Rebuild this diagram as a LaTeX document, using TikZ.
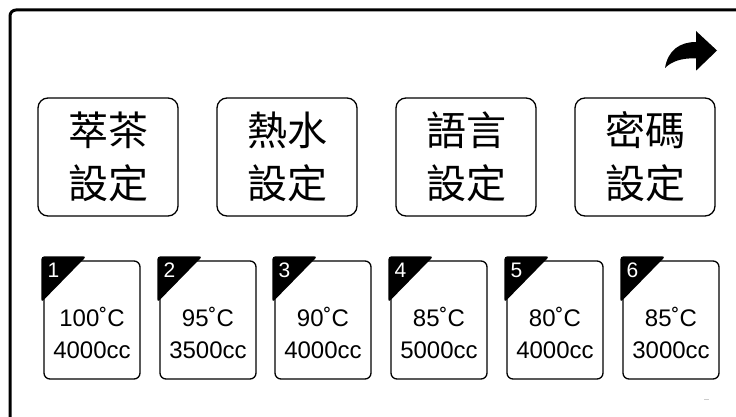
\documentclass[tikz,border=0pt]{standalone}
\usepackage{fontspec}
\setmainfont{Liberation Sans}
\newfontfamily\cjk{Noto Sans CJK TC}
\usetikzlibrary{calc}

\begin{document}
\begin{tikzpicture}[x=1pt, y=-1pt,
    menubox/.style={draw, line width=1.3pt, rounded corners=10pt, minimum width=140pt, minimum height=118pt, align=center, font=\cjk\fontsize{40}{53}\selectfont},
    presetcard/.style={draw, line width=1.3pt, rounded corners=6pt, minimum width=96pt, minimum height=118pt},
    presettext/.style={align=center, font=\fontsize{24}{32}\selectfont},
    presetnum/.style={text=white, font=\fontsize{21}{21}\selectfont, inner sep=0pt}]
    \useasboundingbox (0,0) rectangle (736,417);
    \clip (0,0) rectangle (736,417);

    % the screen frame
    \draw[line width=3pt, rounded corners=6pt] (10,440) -- (10,10) -- (760,10);

    % the next-page arrow
    \fill (665,68) .. controls (668,50) and (680,42) .. (696,42) -- (696,31) -- (717,50.5)
        -- (696,70.7) -- (696,58.3) .. controls (682,58) and (672,61) .. (665,68) -- cycle;

    % the setting buttons
    \node[menubox] (tea) at (108,157) {萃茶\\設定};
    \node[menubox] (water) at (287,157) {熱水\\設定};
    \node[menubox] (lang) at (466,157) {語言\\設定};
    \node[menubox] (pass) at (645,157) {密碼\\設定};

    % the preset cards
    \node[presetcard] (p1) at (92,320) {};
    \node[presetcard] (p2) at (208,320) {};
    \node[presetcard] (p3) at (323,320) {};
    \node[presetcard] (p4) at (439,320) {};
    \node[presetcard] (p5) at (555,320) {};
    \node[presetcard] (p6) at (671,320) {};

    % the corner tags on the cards
    \fill[rounded corners=3pt] ($(p1.north west)+(-2,-4)$) -- ($(p1.north west)+(43,-4)$) -- ($(p1.north west)+(-2,42)$) -- cycle;
    \fill[rounded corners=3pt] ($(p2.north west)+(-2,-4)$) -- ($(p2.north west)+(43,-4)$) -- ($(p2.north west)+(-2,42)$) -- cycle;
    \fill[rounded corners=3pt] ($(p3.north west)+(-2,-4)$) -- ($(p3.north west)+(43,-4)$) -- ($(p3.north west)+(-2,42)$) -- cycle;
    \fill[rounded corners=3pt] ($(p4.north west)+(-2,-4)$) -- ($(p4.north west)+(43,-4)$) -- ($(p4.north west)+(-2,42)$) -- cycle;
    \fill[rounded corners=3pt] ($(p5.north west)+(-2,-4)$) -- ($(p5.north west)+(43,-4)$) -- ($(p5.north west)+(-2,42)$) -- cycle;
    \fill[rounded corners=3pt] ($(p6.north west)+(-2,-4)$) -- ($(p6.north west)+(43,-4)$) -- ($(p6.north west)+(-2,42)$) -- cycle;

    % the numbers in the tags
    \node[presetnum] (n1) at ($(p1.north west)+(10,10)$) {1};
    \node[presetnum] (n2) at ($(p2.north west)+(10,10)$) {2};
    \node[presetnum] (n3) at ($(p3.north west)+(10,10)$) {3};
    \node[presetnum] (n4) at ($(p4.north west)+(10,10)$) {4};
    \node[presetnum] (n5) at ($(p5.north west)+(10,10)$) {5};
    \node[presetnum] (n6) at ($(p6.north west)+(10,10)$) {6};

    % the texts
    \node[presettext] (t1) at ($(p1)+(0,13)$) {100˚C\\4000cc};
    \node[presettext] (t2) at ($(p2)+(0,13)$) {95˚C\\3500cc};
    \node[presettext] (t3) at ($(p3)+(0,13)$) {90˚C\\4000cc};
    \node[presettext] (t4) at ($(p4)+(0,13)$) {85˚C\\5000cc};
    \node[presettext] (t5) at ($(p5)+(0,13)$) {80˚C\\4000cc};
    \node[presettext] (t6) at ($(p6)+(0,13)$) {85˚C\\3000cc};

    % small mark at the bottom
    \draw[gray!40, line width=1pt] (704,399) -- (709,399);
\end{tikzpicture}
\end{document}
